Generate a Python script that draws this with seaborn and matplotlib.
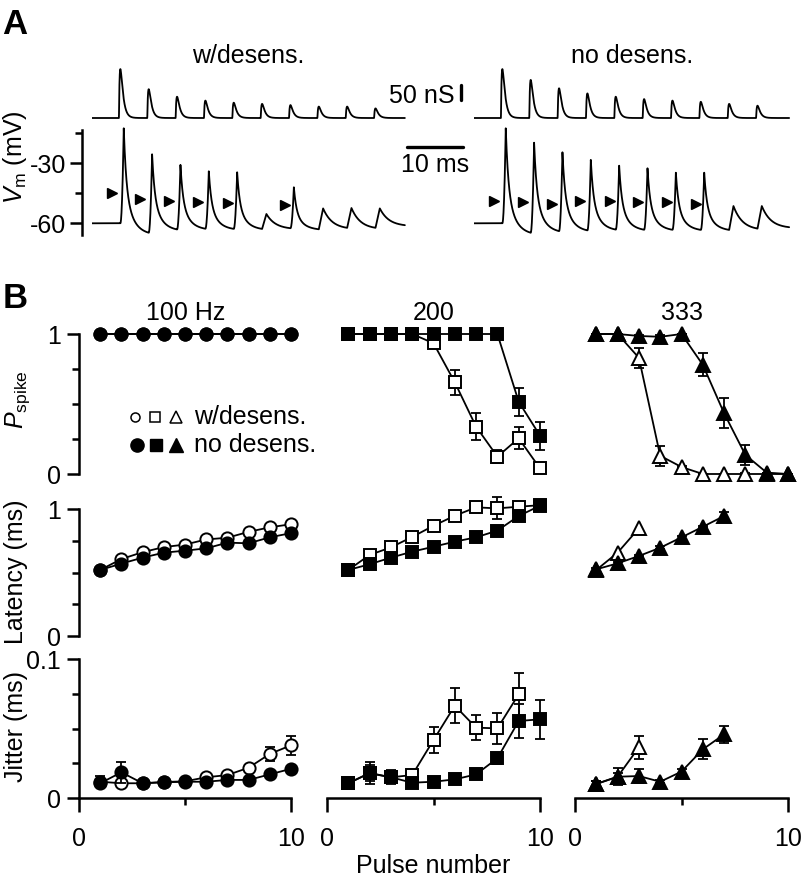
import numpy as np
import matplotlib
matplotlib.use("Agg")
import matplotlib.pyplot as plt
from matplotlib.ticker import FixedLocator, FixedFormatter
import seaborn as sns

# ---------------- panel A: 200 Hz train, example traces ----------------
pulse_ms = [5, 10, 15, 20, 25, 30, 35, 40, 45, 50]
# synaptic conductance peaks (nS)
g_peak_des = [163, 96, 71, 58, 51, 47, 43, 38, 38, 32]
g_peak_nodes = [163, 127, 99, 82, 71, 63, 58, 54, 47, 41]
# membrane potential peaks / troughs (mV), 1 = spike, 0 = failure
vm_peak_des = [-12.5, -25.5, -30.8, -34, -34.5, -55.3, -42, -52.5, -52.3, -52.5]
vm_trough_des = [-66, -64, -63.5, -63.5, -63.5, -63, -63.5, -63, -63, -61.5]
spike_des = [1, 1, 1, 1, 1, 0, 1, 0, 0, 0]
vm_peak_nodes = [-12.5, -19.7, -24.5, -28.3, -31.2, -32.5, -34.7, -34.7, -51.3, -51.3]
vm_trough_nodes = [-66, -65, -64.5, -64, -64, -64, -64, -64, -63.5, -62.5]
spike_nodes = [1, 1, 1, 1, 1, 1, 1, 1, 0, 0]
# threshold arrowheads (ms, mV)
arrow_t_des = [3.5, 8.5, 13.6, 18.7, 23.9, 34.0]
arrow_v_des = [-45, -48, -49, -49.5, -50, -51]
arrow_t_nodes = [3.6, 8.7, 13.7, 18.7, 23.9, 28.9, 34.0, 39.2]
arrow_v_nodes = [-48.7, -49.5, -50.3, -48.7, -49, -49.5, -49.5, -50.3]

# ---------------- panel B: summary ----------------
pulse = [1, 2, 3, 4, 5, 6, 7, 8, 9, 10]

# 100 Hz (circles)
p100_des = [1, 1, 1, 1, 1, 1, 1, 1, 1, 1]
p100_nodes = [1, 1, 1, 1, 1, 1, 1, 1, 1, 1]
lat100_des = [0.52, 0.606, 0.66, 0.70, 0.72, 0.76, 0.774, 0.82, 0.856, 0.88]
lat100_nodes = [0.52, 0.57, 0.617, 0.656, 0.672, 0.69, 0.735, 0.73, 0.777, 0.81]
jit100_des = [0.0117, 0.0106, 0.0106, 0.0115, 0.012, 0.0149, 0.0165, 0.0218, 0.0317, 0.0379]
jit100_des_err = [0.004, 0.002, 0.001, 0.001, 0.001, 0.001, 0.002, 0.002, 0.0053, 0.0069]
jit100_nodes = [0.0106, 0.0185, 0.0106, 0.0113, 0.0117, 0.0117, 0.013, 0.013, 0.017, 0.021]
jit100_nodes_err = [0.003, 0.0076, 0.001, 0.001, 0.001, 0.001, 0.001, 0.001, 0.002, 0.002]

# 200 Hz (squares)
p200_des = [1, 1, 1, 1, 0.934, 0.655, 0.338, 0.124, 0.255, 0.04]
p200_des_err = [0, 0, 0, 0, 0.03, 0.088, 0.095, 0.047, 0.078, 0.02]
p200_nodes = [1, 1, 1, 1, 1, 1, 1, 1, 0.516, 0.274]
p200_nodes_err = [0, 0, 0, 0, 0, 0, 0, 0, 0.1, 0.1]
lat200_des = [0.52, 0.638, 0.698, 0.78, 0.868, 0.947, 1.013, 1.005, 1.018, 1.03]
lat200_des_err = [0.01, 0.01, 0.01, 0.01, 0.01, 0.01, 0.02, 0.087, 0.02, 0.02]
lat200_nodes = [0.52, 0.565, 0.617, 0.664, 0.703, 0.743, 0.777, 0.83, 0.945, 1.026]
jit200_des = [0.0106, 0.018, 0.0149, 0.0165, 0.0417, 0.0664, 0.0506, 0.0501, 0.0746]
jit200_des_err = [0.002, 0.006, 0.004, 0.002, 0.0091, 0.0125, 0.0091, 0.0112, 0.0155]
jit200_nodes = [0.0106, 0.0178, 0.0149, 0.011, 0.0117, 0.0134, 0.017, 0.0286, 0.0554, 0.0566]
jit200_nodes_err = [0.002, 0.008, 0.005, 0.002, 0.001, 0.001, 0.002, 0.004, 0.012, 0.0139]

# 333 Hz (triangles)
p333_des = [1, 1, 0.83, 0.13, 0.05, 0, 0, 0, 0, 0]
p333_des_err = [0, 0, 0.07, 0.07, 0.01, 0, 0, 0.01, 0, 0]
p333_nodes = [1, 1, 0.986, 0.98, 1, 0.78, 0.434, 0.136, 0.01, 0]
p333_nodes_err = [0, 0, 0.01, 0.01, 0, 0.083, 0.107, 0.07, 0, 0]
lat333_des = [0.52, 0.656, 0.848]
lat333_nodes = [0.525, 0.572, 0.63, 0.695, 0.777, 0.86, 0.945]
lat333_nodes_err = [0.01, 0.01, 0.01, 0.01, 0.01, 0.01, 0.03]
jit333_des = [0.0101, 0.0153, 0.0365]
jit333_des_err = [0.002, 0.003, 0.0083]
jit333_nodes = [0.0101, 0.0153, 0.0158, 0.0117, 0.019, 0.035, 0.0458]
jit333_nodes_err = [0.002, 0.006, 0.005, 0.001, 0.002, 0.0072, 0.006]

# ---------------- style ----------------
sns.set_style("ticks")
plt.rcParams['font.family'] = ['Liberation Sans', 'DejaVu Sans']
plt.rcParams['mathtext.fontset'] = 'custom'
plt.rcParams['mathtext.rm'] = 'Liberation Sans'
plt.rcParams['mathtext.it'] = 'Liberation Sans:italic'
for key in ('text.color', 'axes.labelcolor', 'xtick.color', 'ytick.color', 'axes.edgecolor'):
    plt.rcParams[key] = 'black'
FS = 18

W, H = 802, 880
fig = plt.figure(figsize=(W / 100, H / 100), dpi=100)


def px_axes(left, top, right, bottom):
    ax = fig.add_axes([left / W, 1 - bottom / H, (right - left) / W, (bottom - top) / H])
    ax.patch.set_alpha(0)
    return ax


# overlay for free text, in pixel units
ov = fig.add_axes([0, 0, 1, 1])
ov.set_xlim(0, W)
ov.set_ylim(H, 0)
ov.axis('off')


def g_trace(t, times, amps, tau_r=0.15, tau_d=0.45):
    tpk = np.log(tau_d / tau_r) * tau_r * tau_d / (tau_d - tau_r)
    norm = np.exp(-tpk / tau_d) - np.exp(-tpk / tau_r)
    g = np.zeros_like(t)
    for t0, a in zip(times, amps):
        s = np.clip(t - (t0 - tpk), 0, None)
        g += a * (np.exp(-s / tau_d) - np.exp(-s / tau_r)) / norm
    return g


def vm_trace(t, times, peaks, troughs, spikes, v0=-60.0):
    v = np.full(t.shape, v0)
    start = v0
    for i, t0 in enumerate(times):
        t1 = times[i + 1] if i + 1 < len(times) else t[-1] + 1
        rise = 0.6 if spikes[i] else 0.75
        tp = t0 + rise
        up = (t >= t0) & (t < tp)
        v[up] = start + (peaks[i] - start) * ((t[up] - t0) / rise) ** (2 if spikes[i] else 1)
        amp = peaks[i] - troughs[i]
        if spikes[i]:
            f = lambda d: 0.55 * np.exp(-d / 0.45) + 0.45 * np.exp(-d / 1.5)
        else:
            f = lambda d: np.exp(-d / 1.6)
        dn = (t >= tp) & (t < t1)
        v[dn] = troughs[i] + amp * f(t[dn] - tp)
        start = troughs[i] + amp * f(t1 - tp)
    return v


PX_MS = 5.67
t_left = np.arange(0, 55.2, 0.02)
t_right = np.arange(0, 55.6, 0.02)

traces = [
    (92, 70, t_left, g_peak_des, vm_peak_des, vm_trough_des, spike_des, arrow_t_des, arrow_v_des, 'w/desens.', 248),
    (474, 56, t_right, g_peak_nodes, vm_peak_nodes, vm_trough_nodes, spike_nodes, arrow_t_nodes, arrow_v_nodes, 'no desens.', 632),
]
for i, (x0, span, t, gp, vp, vt, sp, at, av, title, tx) in enumerate(traces):
    axg = px_axes(x0, 64, x0 + span * PX_MS, 121)
    axv = px_axes(x0, 119.3, x0 + span * PX_MS, 239.3)
    g = g_trace(t, pulse_ms, gp)
    v = vm_trace(t, pulse_ms, vp, vt, sp)
    sns.lineplot(x=t, y=g, ax=axg, color='k', lw=1.3, estimator=None, sort=False)
    sns.lineplot(x=t, y=v, ax=axv, color='k', lw=1.3, estimator=None, sort=False)
    axv.plot(at, av, ls='none', marker='>', color='k', ms=6.5)
    axg.set_xlim(0, span)
    axg.set_ylim(-10, 180)
    axv.set_xlim(0, span)
    axv.set_ylim(-68, -8)
    axg.axis('off')
    ov.text(tx, 56, title, ha='center', va='center', fontsize=FS)
    if i == 0:
        # scale bars
        axg.plot([65.1, 65.1], [60, 110], color='k', lw=2.4, clip_on=False)
        axg.text(64.0, 72, '50 nS', ha='right', va='center', fontsize=FS)
        axv.plot([55.5, 65.5], [-21.7, -21.7], color='k', lw=2.4, clip_on=False)
        axv.text(60.5, -31, '10 ms', ha='center', va='center', fontsize=FS)
        sns.despine(ax=axv, bottom=True)
        axv.spines['left'].set_position(('outward', 7.5))
        axv.spines['left'].set_bounds(-66, -13.5)
        axv.spines['left'].set_linewidth(1.8)
        axv.xaxis.set_visible(False)
        axv.yaxis.set_major_locator(FixedLocator([-60, -30]))
        axv.yaxis.set_major_formatter(FixedFormatter(['-60', '-30']))
        axv.yaxis.set_minor_locator(FixedLocator([-45, -15]))
        axv.tick_params(axis='y', which='major', length=9, width=1.8, labelsize=FS, pad=2)
        axv.tick_params(axis='y', which='minor', length=5, width=1.8)
        axv.set_ylabel('')
    else:
        axv.axis('off')

ov.text(15, 157, r'$V_{\mathrm{m}}$ (mV)', rotation=90, ha='center', va='center', fontsize=FS)
ov.text(15, 25, 'A', ha='center', va='center', fontsize=25, fontweight='bold')
ov.text(15, 298, 'B', ha='center', va='center', fontsize=25, fontweight='bold')

# ---------------- panel B axes ----------------
cols = [(79, 291), (327, 540), (575, 788)]
rows = [(334, 474, 1.0), (509, 636, 1.0), (659, 798, 0.1)]

series = [
    [(p100_des, None, p100_nodes, None), (lat100_des, None, lat100_nodes, None),
     (jit100_des, jit100_des_err, jit100_nodes, jit100_nodes_err)],
    [(p200_des, p200_des_err, p200_nodes, p200_nodes_err), (lat200_des, lat200_des_err, lat200_nodes, None),
     (jit200_des, jit200_des_err, jit200_nodes, jit200_nodes_err)],
    [(p333_des, p333_des_err, p333_nodes, p333_nodes_err), (lat333_des, None, lat333_nodes, lat333_nodes_err),
     (jit333_des, jit333_des_err, jit333_nodes, jit333_nodes_err)],
]
markers = [('o', 8.8), ('s', 8.4), ('^', 10)]


def draw(ax, y, err, marker, ms, filled, z):
    x = pulse[:len(y)]
    if err is not None:
        eb = ax.errorbar(x, y, yerr=err, fmt='none', ecolor='k', elinewidth=1.3,
                         capsize=3.5, capthick=1.3, zorder=z)
        for a in eb.get_children():
            a.set_clip_on(False)
    sns.lineplot(x=x, y=y, ax=ax, color='k', lw=1.3, estimator=None, marker=marker, markersize=ms,
                 markerfacecolor='k' if filled else 'white', markeredgecolor='k',
                 markeredgewidth=1.4, clip_on=False, zorder=z + 0.5)


for c, (xl, xr) in enumerate(cols):
    for r, (yt, yb, ymax) in enumerate(rows):
        ax = px_axes(xl, yt, xr, yb)
        y_des, e_des, y_nod, e_nod = series[c][r]
        mk, ms = markers[c]
        draw(ax, y_des, e_des, mk, ms, False, 2)
        draw(ax, y_nod, e_nod, mk, ms, True, 4)
        ax.set_xlim(0, 10)
        ax.set_ylim(0, ymax)
        ax.set_xlabel('')
        ax.set_ylabel('')
        sns.despine(ax=ax, left=(c > 0), bottom=(r < 2))
        for sp in ('left', 'bottom'):
            ax.spines[sp].set_linewidth(1.8)
        if c == 0:
            ax.yaxis.set_major_locator(FixedLocator([0, ymax]))
            ax.yaxis.set_major_formatter(FixedFormatter(['0', '0.1' if ymax < 1 else '1']))
            ax.yaxis.set_minor_locator(FixedLocator([ymax * 0.25, ymax * 0.5, ymax * 0.75]))
            ax.tick_params(axis='y', which='major', length=9, width=1.8, labelsize=FS, pad=4)
            ax.tick_params(axis='y', which='minor', length=5, width=1.8)
        else:
            ax.yaxis.set_visible(False)
        if r == 2:
            ax.xaxis.set_major_locator(FixedLocator([0, 10]))
            ax.xaxis.set_major_formatter(FixedFormatter(['0', '10']))
            ax.xaxis.set_minor_locator(FixedLocator([5]))
            ax.tick_params(axis='x', which='major', length=10, width=1.8, labelsize=FS, pad=11)
            ax.tick_params(axis='x', which='minor', length=5, width=1.8)
        else:
            ax.xaxis.set_visible(False)

for title, cx in zip(['100 Hz', '200', '333'], [186, 433.5, 681.5]):
    ov.text(cx, 313, title, ha='center', va='center', fontsize=FS)

ov.text(18, 400, r'$P_{\mathrm{spike}}$', rotation=90, ha='center', va='center', fontsize=FS)
ov.text(16, 572, 'Latency (ms)', rotation=90, ha='center', va='center', fontsize=FS)
ov.text(16, 727, 'Jitter (ms)', rotation=90, ha='center', va='center', fontsize=FS)
ov.text(433.5, 866, 'Pulse number', ha='center', va='center', fontsize=FS)

# legend (marker glyphs + text)
for (mk, ms), lx in zip([('o', 6.5), ('s', 7), ('^', 8.5)], [135, 155, 175.5]):
    ov.plot([lx], [417], marker=mk, ms=ms, mfc='white', mec='k', mew=1.1, ls='none')
for (mk, ms), lx in zip([('o', 9.5), ('s', 8.5), ('^', 9.5)], [137, 156, 176]):
    ov.plot([lx], [445], marker=mk, ms=ms, mfc='k', mec='k', ls='none')
ov.text(194, 417, 'w/desens.', ha='left', va='center', fontsize=FS)
ov.text(194, 445, 'no desens.', ha='left', va='center', fontsize=FS)

fig.savefig('out.png', dpi=100)
